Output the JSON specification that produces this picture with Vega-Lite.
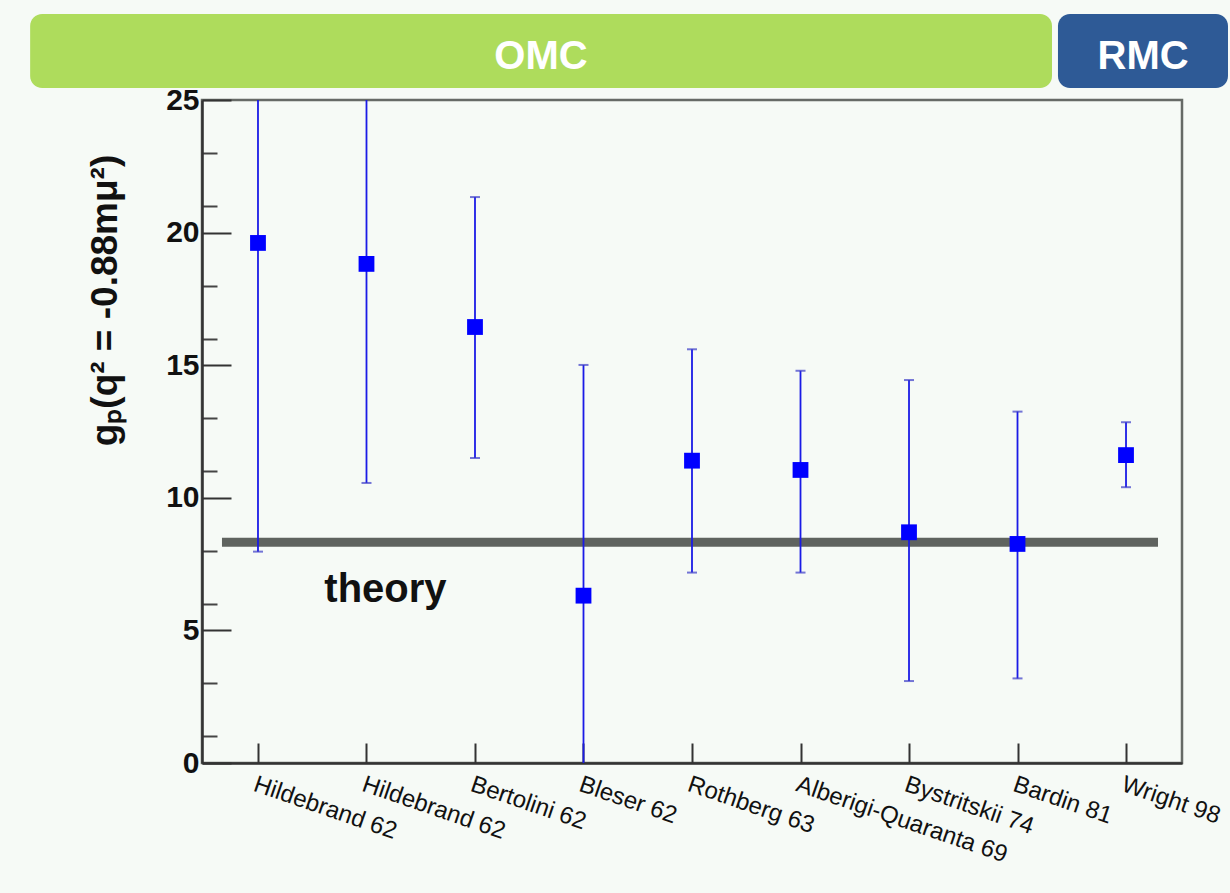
{
  "$schema": "https://vega.github.io/schema/vega-lite/v6.json",
  "width": 980,
  "height": 663,
  "autosize": {"type": "none"},
  "padding": {"left": 202, "top": 100, "right": 48, "bottom": 130},
  "background": "#f6faf6",
  "config": {
    "font": "Liberation Sans",
    "view": {"stroke": "#666a66", "strokeWidth": 2.5, "fill": null}
  },
  "datasets": {
    "measurements": [
      {"experiment": "Hildebrand 62", "value": 19.61, "lower": 7.97, "upper": 31.25},
      {"experiment": "Hildebrand 62 ", "value": 18.82, "lower": 10.56, "upper": 27.08},
      {"experiment": "Bertolini 62", "value": 16.44, "lower": 11.5, "upper": 21.34},
      {"experiment": "Bleser 62", "value": 6.31, "lower": -2.39, "upper": 15.01},
      {"experiment": "Rothberg 63", "value": 11.4, "lower": 7.18, "upper": 15.6},
      {"experiment": "Alberigi-Quaranta 69", "value": 11.05, "lower": 7.18, "upper": 14.79},
      {"experiment": "Bystritskii 74", "value": 8.7, "lower": 3.09, "upper": 14.44},
      {"experiment": "Bardin 81", "value": 8.26, "lower": 3.19, "upper": 13.25},
      {"experiment": "Wright 98", "value": 11.61, "lower": 10.4, "upper": 12.85}
    ],
    "theory": [
      {"label": "theory", "value": 8.32, "from": 0.668, "to": 9.295, "textPos": 2.175, "textValue": 6.07}
    ],
    "headers": [
      {"method": "OMC", "from": -1.1, "to": 8.318, "center": 3.608, "bottom": 25.45, "top": 28.24, "textValue": 26.62},
      {"method": "RMC", "from": 8.373, "to": 9.94, "center": 9.157, "bottom": 25.45, "top": 28.24, "textValue": 26.62}
    ]
  },
  "layer": [
    {
      "layer": [
        {
          "data": {"name": "headers"},
          "mark": {"type": "rect", "cornerRadius": 12},
          "encoding": {
            "x": {"field": "from", "type": "quantitative", "scale": {"domain": [0.4839, 9.5161], "nice": false, "zero": false}, "axis": null},
            "x2": {"field": "to"},
            "y": {"field": "bottom", "type": "quantitative", "scale": {"domain": [0, 25], "nice": false, "zero": false}},
            "y2": {"field": "top"},
            "color": {"field": "method", "type": "nominal", "scale": {"domain": ["OMC", "RMC"], "range": ["#aedc5c", "#2e5a96"]}, "legend": null}
          }
        },
        {
          "data": {"name": "headers"},
          "mark": {"type": "text", "color": "white", "fontSize": 40, "fontWeight": "bold", "align": "center", "baseline": "middle"},
          "encoding": {
            "x": {"field": "center", "type": "quantitative", "scale": {"domain": [0.4839, 9.5161], "nice": false, "zero": false}, "axis": null},
            "y": {"field": "textValue", "type": "quantitative", "scale": {"domain": [0, 25], "nice": false, "zero": false}},
            "text": {"field": "method"}
          }
        },
        {
          "data": {"name": "theory"},
          "mark": {"type": "rule", "color": "#5f635f", "strokeWidth": 9},
          "encoding": {
            "x": {"field": "from", "type": "quantitative", "scale": {"domain": [0.4839, 9.5161], "nice": false, "zero": false}, "axis": null},
            "x2": {"field": "to"},
            "y": {
              "field": "value",
              "type": "quantitative",
              "scale": {"domain": [0, 25], "nice": false, "zero": false},
              "axis": {
                "orient": "left",
                "title": null,
                "values": [1, 2, 3, 4, 6, 7, 8, 9, 11, 12, 13, 14, 16, 17, 18, 19, 21, 22, 23, 24],
                "labels": false,
                "domain": false,
                "grid": false,
                "tickSize": -15,
                "tickWidth": 2,
                "tickColor": "#444"
              }
            }
          }
        },
        {
          "data": {"name": "theory"},
          "mark": {"type": "text", "color": "#111", "fontSize": 40, "fontWeight": "bold", "align": "center", "baseline": "alphabetic"},
          "encoding": {
            "x": {"field": "textPos", "type": "quantitative", "scale": {"domain": [0.4839, 9.5161], "nice": false, "zero": false}, "axis": null},
            "y": {"field": "textValue", "type": "quantitative", "scale": {"domain": [0, 25], "nice": false, "zero": false}},
            "text": {"field": "label"}
          }
        }
      ]
    },
    {
      "data": {"name": "measurements"},
      "encoding": {
        "x": {
          "field": "experiment",
          "type": "nominal",
          "sort": null,
          "scale": {"type": "point", "padding": 0.516},
          "axis": {
            "title": null,
            "labelAngle": 19,
            "labelAlign": "left",
            "labelBaseline": "top",
            "labelFontSize": 24,
            "labelColor": "#111",
            "labelPadding": 29,
            "labelLimit": 0,
            "tickSize": -20,
            "tickWidth": 2,
            "tickColor": "#333",
            "domainColor": "#333",
            "domainWidth": 2.5,
            "grid": false
          }
        }
      },
      "layer": [
        {
          "mark": {"type": "rule", "color": "#1a1ae6", "strokeWidth": 1.8, "clip": true},
          "encoding": {
            "y": {"field": "lower", "type": "quantitative", "scale": {"domain": [0, 25], "nice": false, "zero": false}},
            "y2": {"field": "upper"}
          }
        },
        {
          "mark": {"type": "tick", "orient": "horizontal", "color": "#3a3ac8", "size": 10, "thickness": 2, "clip": true},
          "encoding": {
            "y": {"field": "lower", "type": "quantitative", "scale": {"domain": [0, 25], "nice": false, "zero": false}}
          }
        },
        {
          "mark": {"type": "tick", "orient": "horizontal", "color": "#3a3ac8", "size": 10, "thickness": 2, "clip": true},
          "encoding": {
            "y": {"field": "upper", "type": "quantitative", "scale": {"domain": [0, 25], "nice": false, "zero": false}}
          }
        },
        {
          "mark": {"type": "point", "shape": "square", "filled": true, "color": "#0000ff", "size": 250, "opacity": 1},
          "encoding": {
            "y": {
              "field": "value",
              "type": "quantitative",
              "scale": {"domain": [0, 25], "nice": false, "zero": false},
              "axis": {
                "orient": "left",
                "title": "gₚ(q² = -0.88mμ²)",
                "titleFontSize": 37,
                "titleFontWeight": "bold",
                "titleColor": "#111",
                "titleBaseline": "middle",
                "titleX": -97,
                "titleY": 200,
                "titleAngle": 270,
                "titleAlign": "center",
                "values": [0, 5, 10, 15, 20, 25],
                "labelOverlap": false,
                "labelFontSize": 30,
                "labelFontWeight": "bold",
                "labelColor": "#111",
                "labelBaseline": "middle",
                "labelPadding": 32,
                "tickSize": -29,
                "tickWidth": 2,
                "tickColor": "#333",
                "domainColor": "#333",
                "domainWidth": 2.5,
                "grid": false
              }
            }
          }
        }
      ]
    }
  ],
  "resolve": {"scale": {"x": "independent", "color": "independent"}, "axis": {"x": "independent", "y": "independent"}}
}
